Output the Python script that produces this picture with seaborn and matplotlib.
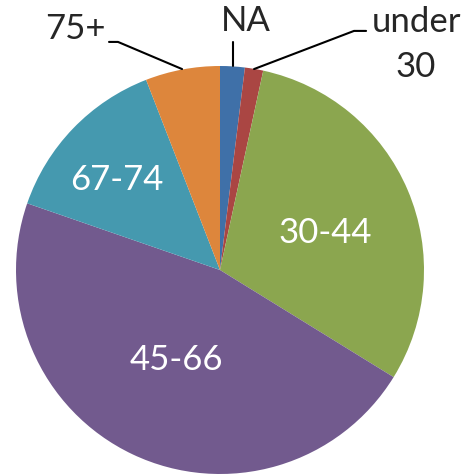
import matplotlib
matplotlib.use("Agg")
import matplotlib.pyplot as plt
import seaborn as sns

# age groups, clockwise from 12 o'clock
groups = ["NA", "under 30", "30-44", "45-66", "67-74", "75+"]
shares = [1.95, 1.45, 30.4, 46.5, 13.8, 5.9]
colors = ["#3F70A8", "#AA4643", "#8BA64F", "#725A8E", "#4599AF", "#DD863C"]

sns.set_style("white")
plt.rcParams["font.family"] = ["Lato", "DejaVu Sans"]

fig = plt.figure(figsize=(4.75, 4.75), dpi=100)
# pie centre at (220, 270) px, radius 204 px
cx, cy, r = 220 / 475, 1 - 270 / 475, 204 / 475
ax = fig.add_axes([cx - r, cy - r, 2 * r, 2 * r])

wedges, _ = ax.pie(shares, colors=colors, startangle=90, counterclock=False,
                   radius=1, wedgeprops=dict(linewidth=0))
ax.set_xlim(-1, 1)
ax.set_ylim(-1, 1)
ax.set_aspect("equal")
ax.axis("off")

fs = 25
# inside labels
ax.text(0.515, 0.181, "30-44", color="white", fontsize=fs, ha="center", va="center")
ax.text(-0.216, -0.441, "45-66", color="white", fontsize=fs, ha="center", va="center")
ax.text(-0.505, 0.441, "67-74", color="white", fontsize=fs, ha="center", va="center")

# outside labels with leader lines
ax.text(0.127, 1.22, "NA", fontsize=fs, ha="center", va="center", clip_on=False)
ax.plot([0.064, 0.064], [1.118, 1.0], color="black", lw=1.5, clip_on=False)

ax.text(0.961, 1.105, "under\n30", fontsize=fs, ha="center", va="center",
        linespacing=1.5, clip_on=False)
ax.plot([0.716, 0.657, 0.167], [1.172, 1.172, 0.985], color="black", lw=1.5, clip_on=False)

ax.text(-0.711, 1.181, "75+", fontsize=fs, ha="center", va="center", clip_on=False)
ax.plot([-0.544, -0.5, -0.186], [1.118, 1.118, 0.985], color="black", lw=1.5, clip_on=False)

fig.savefig("out.png", dpi=100)
